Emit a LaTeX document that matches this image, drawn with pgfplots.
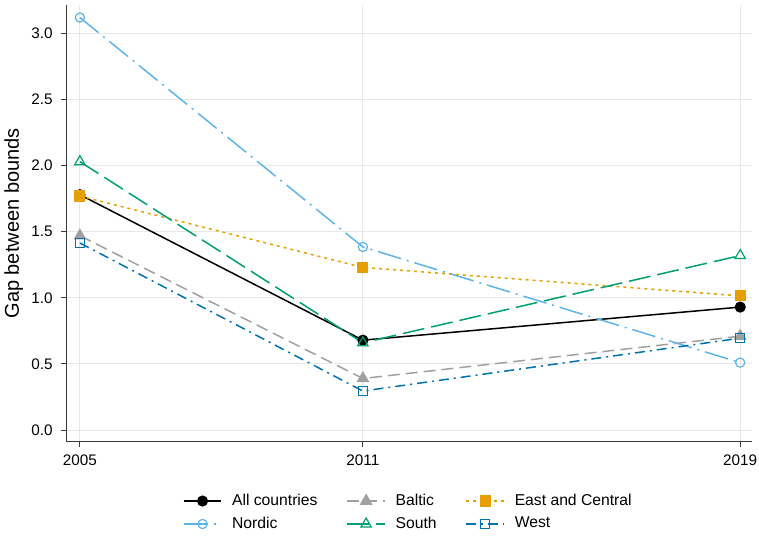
\documentclass[border=0pt]{standalone}
\usepackage{pgfplots}
\pgfplotsset{compat=1.18}
\usepackage{fontspec}
\setmainfont{Liberation Sans}

\definecolor{cAll}{HTML}{000000}
\definecolor{cBaltic}{HTML}{A0A0A0}
\definecolor{cEast}{HTML}{E69F00}
\definecolor{cNordic}{HTML}{5FB4E6}
\definecolor{cSouth}{HTML}{009E73}
\definecolor{cWest}{HTML}{0072B2}
\definecolor{axgray}{HTML}{3A3A3A}
\definecolor{gridgray}{HTML}{E8E8E8}

\begin{document}
\begin{tikzpicture}
\begin{axis}[
  scale only axis,
  width=342.6pt, height=218.35pt,
  xmin=2004.72, xmax=2019.25,
  ymin=-0.0885, ymax=3.215,
  axis lines=left,
  axis line style={axgray, line width=0.6pt, -},
  xtick={2005,2011,2019},
  xticklabels={2005,2011,2019},
  ytick={0,0.5,1,1.5,2,2.5,3},
  yticklabel style={/pgf/number format/.cd, fixed, fixed zerofill, precision=1, /tikz/.cd, xshift=-0.8pt},
  /pgf/number format/assume math mode=true,
  tick label style={font=\fontsize{7.65}{9}\selectfont, text=black},
  tick style={axgray, line width=0.5pt},
  tick align=outside,
  major tick length=2.75pt,
  grid=major,
  major grid style={gridgray, line width=0.5pt},
  ylabel={Gap between bounds},
  ylabel style={font=\fontsize{8.25}{10}\selectfont},
  every axis y label/.style={at={(axis description cs:-0.0533,0.5)}, rotate=90, anchor=south},
  legend style={
    at={(0.5,-0.1)}, anchor=north, draw=none,
    font=\fontsize{7.85}{9}\selectfont,
    legend columns=3,
    /tikz/every odd column/.append style={column sep=3pt},
    /tikz/every even column/.append style={column sep=12.5pt},
    row sep=0.3pt,
  },
  legend cell align=left,
  legend image code/.code={\draw[mark repeat=2, mark phase=2, #1]
    plot coordinates {(0cm,0cm) (0.33cm,0cm) (0.66cm,0cm)};},
  every axis plot/.append style={line width=0.75pt},
]
\addplot[color=cAll, solid, mark=*, mark size=2.4pt, mark options={solid}]
  coordinates {(2005,1.78) (2011,0.68) (2019,0.93)};
\addlegendentry{All countries}
\addplot[color=cBaltic, dash pattern=on 6pt off 3pt, mark=triangle*, mark size=3pt, mark options={solid}]
  coordinates {(2005,1.47) (2011,0.39) (2019,0.71)};
\addlegendentry{Baltic}
\addplot[color=cEast, dash pattern=on 1.5pt off 2pt, mark=square*, mark size=2.4pt, mark options={solid}]
  coordinates {(2005,1.77) (2011,1.23) (2019,1.015)};
\addlegendentry{East and Central}
\addplot[color=cNordic, dash pattern=on 12pt off 3pt on 1pt off 3pt, mark=o, mark size=2.3pt, mark options={solid, line width=0.6pt}]
  coordinates {(2005,3.12) (2011,1.385) (2019,0.51)};
\addlegendentry{Nordic}
\addplot[color=cSouth, dash pattern=on 11pt off 3.5pt, mark=triangle, mark size=3pt, mark options={solid, line width=0.6pt}]
  coordinates {(2005,2.03) (2011,0.66) (2019,1.32)};
\addlegendentry{South}
\addplot[color=cWest, dash pattern=on 5pt off 2.5pt on 1pt off 2.5pt, mark=square, mark size=2.2pt, mark options={solid, line width=0.6pt}]
  coordinates {(2005,1.415) (2011,0.295) (2019,0.695)};
\addlegendentry{West}
\end{axis}
\pgfresetboundingbox
\path[use as bounding box]
  ([xshift=-33.35pt, yshift=-46.65pt]current axis.south west)
  rectangle ([xshift=3.5pt, yshift=2.5pt]current axis.north east);
\end{tikzpicture}
\end{document}
